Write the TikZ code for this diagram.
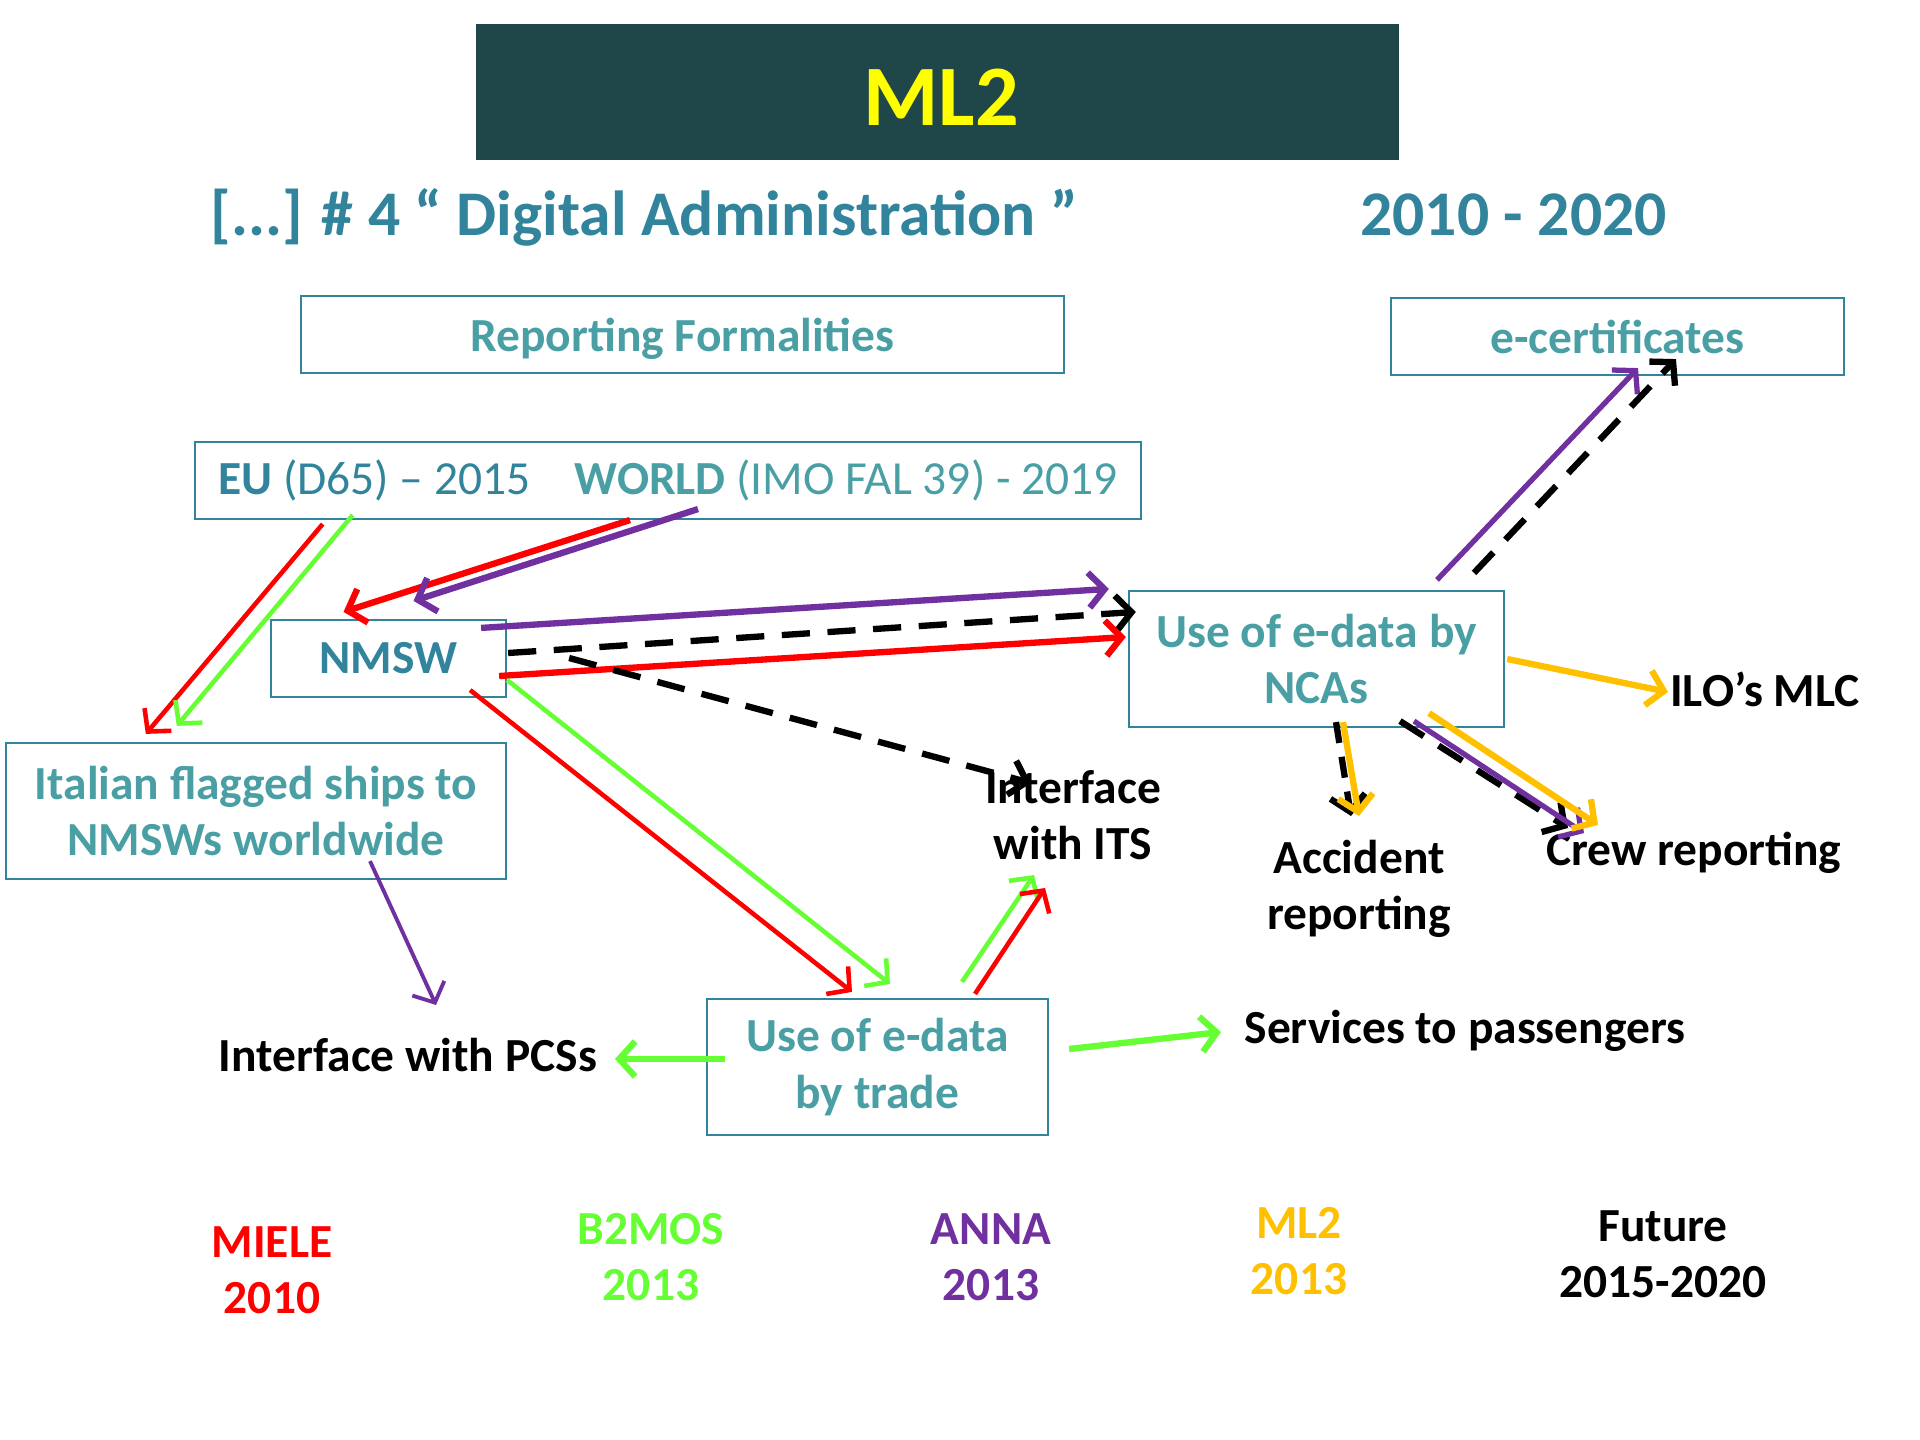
\documentclass[tikz,border=0pt]{standalone}
\usepackage{fontspec}
\setmainfont{Carlito}
\usetikzlibrary{arrows.meta,calc}
\definecolor{tealdark}{HTML}{31849B}
\definecolor{teallight}{HTML}{4A9FA5}
\definecolor{titlebg}{HTML}{1F4649}
\definecolor{mlyellow}{HTML}{FFFF00}
\definecolor{arrred}{HTML}{FF0000}
\definecolor{arrgreen}{HTML}{66FF33}
\definecolor{arrpurple}{HTML}{7030A0}
\definecolor{arrorange}{HTML}{FFC000}
\tikzset{
  box/.style={draw=tealdark, line width=0.6pt, inner sep=0pt, align=center,
    font=\fontsize{13.5}{16}\selectfont\bfseries, text=teallight},
  lbl/.style={align=center, font=\fontsize{13.5}{16}\selectfont\bfseries},
  arr/.style={-{Straight Barb[length=4.5pt,width=10pt]}, line width=1.8pt},
  thinarr/.style={arr, line width=1.3pt},
  dasharr/.style={arr, black, dash pattern=on 8pt off 5pt},
}
\begin{document}
\begin{tikzpicture}[x=0.01cm,y=-0.01cm]
	\useasboundingbox (0,0) rectangle (1920,1440);
	% heading
	\node[fill=titlebg, minimum width=9.23cm, minimum height=1.36cm] (title) at (937.5,92) {};
	\node[anchor=base, text=mlyellow, font=\fontsize{24.5}{28}\selectfont\bfseries] (ml) at (941,126) {ML2};
	\node[anchor=base west, text=tealdark, font=\fontsize{18.1}{22}\selectfont\bfseries] (sub) at (198,236) {[...] \# 4 “ Digital Administration ”};
	\node[anchor=base west, text=tealdark, font=\fontsize{18.1}{22}\selectfont\bfseries] (years) at (1348,236) {2010 - 2020};
	% boxes
	\node[box, minimum width=7.63cm, minimum height=0.77cm, text height=12pt] (rep) at (682.5,334.5) {Reporting Formalities};
	\node[box, minimum width=4.53cm, minimum height=0.77cm] (ecert) at (1617.5,336.5) {e-certificates};
	\node[box, minimum width=9.46cm, minimum height=0.77cm, font=\fontsize{13.5}{16}\selectfont] (eu) at (668,480.5)
		{\textcolor{tealdark}{\textbf{EU} (D65) – 2015}\hspace{12.5pt}\textbf{WORLD} (IMO FAL 39) - 2019};
	\node[box, minimum width=2.35cm, minimum height=0.77cm, text=tealdark] (nmsw) at (388.5,658.5) {NMSW};
	\node[box, minimum width=3.75cm, minimum height=1.36cm] (nca) at (1316.5,659) {Use of e-data by\\NCAs};
	\node[box, minimum width=5.00cm, minimum height=1.36cm] (ital) at (256,811) {Italian flagged ships to\\NMSWs worldwide};
	\node[box, minimum width=3.41cm, minimum height=1.36cm] (trade) at (877.5,1067) {Use of e-data\\by trade};
	% targets
	\node[lbl] (its) at (1073,815) {Interface\\with ITS};
	\node[lbl] (acc) at (1359,889) {Accident\\reporting};
	\node[lbl] (crew) at (1694,853) {Crew reporting};
	\node[lbl] (ilo) at (1765,689) {ILO’s MLC};
	\node[lbl] (pcs) at (408,1055) {Interface with PCSs};
	\node[lbl] (serv) at (1465,1031) {Services to passengers};
	% projects
	\node[lbl, text=arrred] (miele) at (272,1270) {MIELE\\2010};
	\node[lbl, text=arrgreen] (b2mos) at (651,1257) {B2MOS\\2013};
	\node[lbl, text=arrpurple] (anna) at (991,1257) {ANNA\\2013};
	\node[lbl, text=arrorange] (mltwo) at (1299,1251) {ML2\\2013};
	\node[lbl] (future) at (1663,1254) {Future\\2015-2020};
	% flows from the rules
	\draw[thinarr, arrred] ($(eu.south west)+(129,4)$) -- ($(ital.north west)+(141,-8)$);
	\draw[thinarr, arrgreen] ($(eu.south west)+(159,-5)$) -- ($(ital.north west)+(172,-16)$);
	\draw[arr, arrred] ($(eu.south)+(-38,0)$) -- ($(nmsw.north)+(-45,-7)$);
	\draw[arr, arrpurple] ($(eu.south)+(30,-11)$) -- ($(nmsw.north)+(25,-18)$);
	% flows from the NMSW
	\draw[arr, arrpurple] ($(nmsw.north east)+(-26,9)$) -- ($(nca.north west)+(-19,-1)$);
	\draw[dasharr] ($(nmsw.east)+(1,-5.5)$) -- ($(nca.north west)+(8,22)$);
	\draw[arr, arrred] ($(nmsw.east)+(-8,17.5)$) -- ($(nca.west)+(-2,-22)$);
	\draw[dasharr] ($(nmsw.east)+(62,-0.5)$) -- ($(its.center)+(-42,-32)$);
	\draw[thinarr, arrred] ($(nmsw.south east)+(-37,-8)$) -- ($(trade.north)+(-25.5,-6)$);
	\draw[thinarr, arrgreen] ($(nmsw.east)+(0,21.5)$) -- ($(trade.north)+(12.5,-14)$);
	\draw[thinarr, arrpurple, line width=1.1pt] ($(ital.south)+(114,-19)$) -- ($(pcs.center)+(28,-50)$);
	% flows from trade
	\draw[thinarr, arrgreen] ($(trade.north)+(84.5,-16)$) -- ($(its.center)+(-39,60)$);
	\draw[thinarr, arrred] ($(trade.north)+(97.5,-4)$) -- ($(its.center)+(-28,73)$);
	\draw[arr, arrgreen] ($(trade.west)+(19,-8)$) -- ($(pcs.center)+(207,4)$);
	\draw[arr, arrgreen] ($(trade.east)+(20,-18)$) -- ($(serv.center)+(-244,1)$);
	% flows from the NCAs
	\draw[thinarr, arrpurple, line width=1.5pt] ($(nca.north)+(120.5,-10)$) -- ($(ecert.south)+(20.5,-8)$);
	\draw[dasharr] ($(nca.north)+(157.5,-17)$) -- ($(ecert.south)+(58.5,-17)$);
	\draw[arr, arrorange] ($(nca.east)+(2,0)$) -- ($(ilo.center)+(-97,3)$);
	\draw[dasharr, dash pattern=on 6pt off 4pt] ($(nca.south)+(19.5,-6)$) -- ($(acc.center)+(-8,-73)$);
	\draw[arr, arrorange] ($(nca.south)+(26.5,-6)$) -- ($(acc.center)+(0,-73)$);
	\draw[dasharr] ($(nca.south)+(83.5,-7)$) -- ($(crew.center)+(-126,-25)$);
	\draw[thinarr, arrpurple, line width=1.5pt] ($(nca.south)+(97.5,-7)$) -- ($(crew.center)+(-110,-20)$);
	\draw[arr, arrorange] ($(nca.south)+(112.5,-15)$) -- ($(crew.center)+(-96,-28)$);
\end{tikzpicture}
\end{document}
